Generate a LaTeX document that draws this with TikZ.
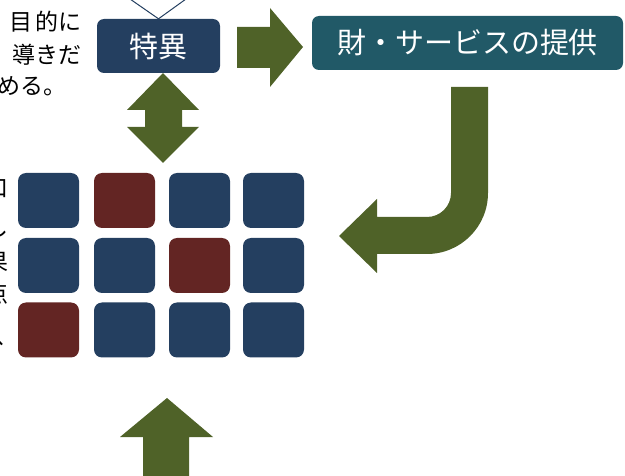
\documentclass[tikz,border=0pt]{standalone}
\usepackage{fontspec}
\setmainfont{Noto Sans CJK JP}
\definecolor{cnavy}{HTML}{243F60}
\definecolor{cteal}{HTML}{215967}
\definecolor{cred}{HTML}{632523}
\definecolor{colive}{HTML}{4F6228}
\begin{document}
\begin{tikzpicture}[x=1pt,y=-1pt,
  box/.style={rounded corners=7pt, inner sep=0pt, text=white, font=\fontsize{29}{29}\selectfont},
  cell/.style={rounded corners=8pt, inner sep=0pt, minimum width=61pt, minimum height=55pt},
  lbl/.style={inner sep=0pt, text=black, font=\fontsize{23}{23}\selectfont},
  blockarrow/.style={fill=colive, draw=none},
  thinline/.style={draw=cnavy, line width=1pt}]
\useasboundingbox (0,0) rectangle (625,476);
\clip (0,0) rectangle (625,476);
% top-left text
\node[lbl, anchor=east] (t1) at (82,22) {目\hspace{3pt}的に};
\node[lbl, anchor=east] (t2) at (82,55) {導きだ};
\node[lbl, anchor=west] (t3) at (-3,86) {める。};
% clipped left column text
\node[lbl, anchor=east] (c1) at (9,189) {口};
\node[lbl, anchor=east] (c2) at (9,228) {し};
\node[lbl, anchor=east] (c3) at (9,262) {果};
\node[lbl, anchor=east] (c4) at (9,294) {点};
\node[lbl, anchor=east] (c5) at (19,337) {い、};
% boxes
\node[box, fill=cnavy, minimum width=123pt, minimum height=54pt] (tokui) at (158.5,46) {特異};
\node[box, fill=cteal, minimum width=311pt, minimum height=54pt] (zai) at (467.5,43) {財・サービスの提供};
% lines above
\coordinate (la) at (130,-1);
\coordinate (lb) at (186,-1);
\draw[thinline] (la) -- (tokui.north) -- (lb);
% grid
\foreach \r/\y in {1/200.5,2/265.5,3/330}{
  \foreach \c/\x in {1/48.5,2/124.5,3/199.5,4/273.5}{
    \pgfmathtruncatemacro{\red}{(\r==1 && \c==2) || (\r==2 && \c==3) || (\r==3 && \c==1)}
    \ifnum\red=1
      \node[cell, fill=cred] (g\r\c) at (\x,\y) {};
    \else
      \node[cell, fill=cnavy] (g\r\c) at (\x,\y) {};
    \fi
  }
}
% right arrow
\fill[blockarrow] (237,27) -- (270,27) -- (270,8) -- (303,47) -- (270,87) -- (270,68) -- (237,68) -- cycle;
% double arrow
\fill[blockarrow] (163,73) -- (199,110) -- (182,110) -- (182,127) -- (199,127) -- (163,163) -- (127,127) -- (145,127) -- (145,110) -- (127,110) -- cycle;
% up arrow
\fill[blockarrow] (167,398) -- (213,437) -- (189,437) -- (189,480) -- (143,480) -- (143,437) -- (120,437) -- cycle;
% J arrow
\fill[blockarrow] (451,87) -- (488,87) -- (488,193) arc[start angle=0,end angle=90,radius=61] -- (377,254) -- (377,273) -- (339,236) -- (377,199) -- (377,217) -- (427,217) arc[start angle=90,end angle=0,radius=24] -- cycle;
\end{tikzpicture}
\end{document}
